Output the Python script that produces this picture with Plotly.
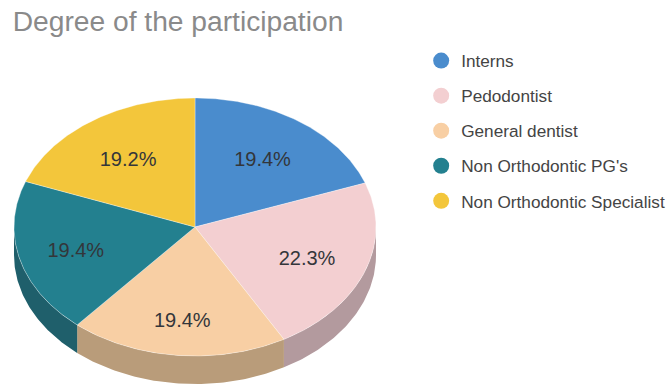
import numpy as np
import plotly.graph_objects as go

# Chart content
title = "Degree of the participation"
categories = ["Interns", "Pedodontist", "General dentist", "Non Orthodontic PG's", "Non Orthodontic Specialist"]
values = [19.4, 22.3, 19.4, 19.4, 19.2]
top_colors = ["#4a8ccd", "#f3cfd1", "#f8cfa4", "#23808f", "#f3c63b"]
side_colors = ["#305c86", "#b39a9e", "#b99c7a", "#1f5f6b", "#9e8126"]
label_radius = [0.65, 0.66, 0.72, 0.68, 0.65]

# Tilted-disc geometry, in page pixels
CX, CY = 195, 227
RX, RY = 181, 129
DEPTH = 28
LABEL_DROP = 3


def ellipse(deg, dy=0.0):
    """Clockwise angle from 12 o'clock to a point on the disc rim."""
    a = np.radians(deg)
    return CX + RX * np.sin(a), CY - RY * np.cos(a) + dy


fractions = np.array(values) / sum(values)
edges = np.concatenate([[0], np.cumsum(fractions)]) * 360

fig = go.Figure()

# Side walls: only the front half of the rim (90 to 270 degrees) is visible
for i in range(len(values)):
    lo, hi = max(edges[i], 90), min(edges[i + 1], 270)
    if hi <= lo:
        continue
    arc = np.linspace(lo, hi, 80)
    x1, y1 = ellipse(arc)
    x2, y2 = ellipse(arc[::-1], DEPTH)
    fig.add_trace(go.Scatter(
        x=np.concatenate([x1, x2]), y=np.concatenate([y1, y2]),
        fill="toself", fillcolor=side_colors[i], mode="lines",
        line=dict(width=0, color=side_colors[i]),
        showlegend=False, hoverinfo="skip",
    ))

# Top face wedges
for i, name in enumerate(categories):
    arc = np.linspace(edges[i], edges[i + 1], 120)
    x, y = ellipse(arc)
    fig.add_trace(go.Scatter(
        x=np.concatenate([[CX], x, [CX]]), y=np.concatenate([[CY], y, [CY]]),
        fill="toself", fillcolor=top_colors[i], mode="lines",
        line=dict(width=0.6, color="rgba(255,255,255,0.55)"),
        name=name, showlegend=False, hoverinfo="name",
    ))

# Percentage labels at each wedge's middle angle
mids = (edges[:-1] + edges[1:]) / 2
rad = np.radians(mids)
fig.add_trace(go.Scatter(
    x=CX + RX * np.array(label_radius) * np.sin(rad),
    y=CY - RY * np.array(label_radius) * np.cos(rad) + LABEL_DROP,
    mode="text", text=[f"{v:.1f}%" for v in values],
    textposition="middle center",
    textfont=dict(family="Liberation Sans", size=20, color="#33363a"),
    showlegend=False, hoverinfo="skip",
))

# Legend entries with round swatches
for name, color in zip(categories, top_colors):
    fig.add_trace(go.Scatter(
        x=[None], y=[None], mode="markers", name=name, legendgroup=name,
        marker=dict(size=17, color=color),
    ))

fig.update_layout(
    width=668, height=390,
    margin=dict(l=0, r=0, t=0, b=0, autoexpand=False),
    paper_bgcolor="white", plot_bgcolor="white",
    xaxis=dict(range=[0, 668], visible=False, fixedrange=True),
    yaxis=dict(range=[390, 0], visible=False, fixedrange=True),
    title=dict(
        text=title, x=0.019, xanchor="left", y=0.945, yanchor="middle",
        font=dict(family="Liberation Sans", size=28.2, color="#8a8a8a"),
    ),
    legend=dict(
        x=0.6305, xanchor="left", y=0.890, yanchor="top",
        font=dict(family="Liberation Sans", size=17.2, color="#444444"),
        tracegroupgap=9.7, bgcolor="rgba(0,0,0,0)", itemclick=False, itemdoubleclick=False,
    ),
    showlegend=True,
)

fig.write_html("out.html", config={"displayModeBar": False})
